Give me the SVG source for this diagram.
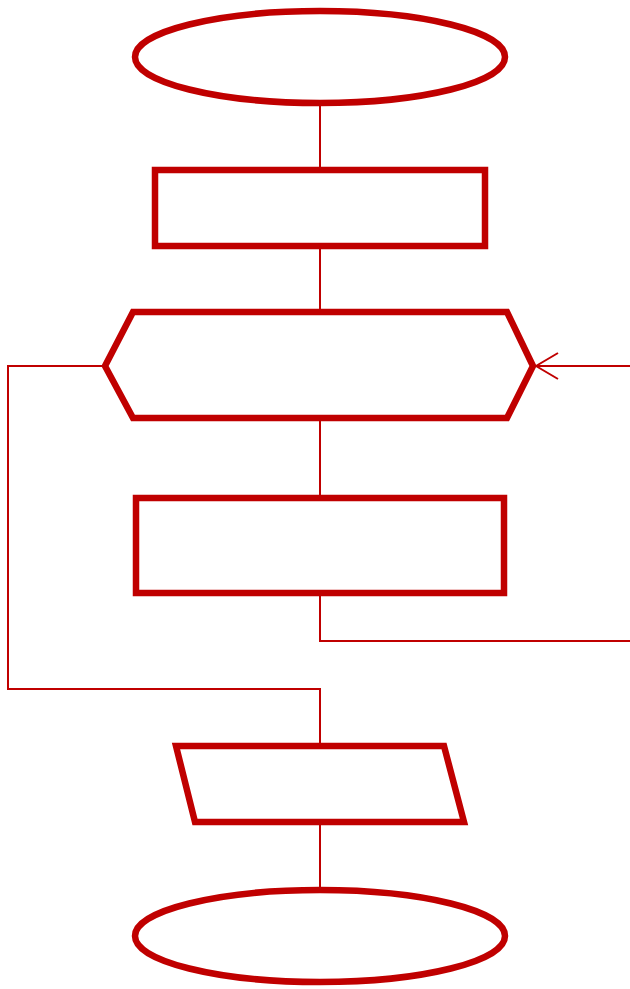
<svg xmlns="http://www.w3.org/2000/svg" width="630" height="989" viewBox="0 0 630 989">
<style>
.n{fill:#fff;stroke:#c00000;stroke-width:6.5;stroke-linejoin:miter}
.c{fill:none;stroke:#c00000;stroke-width:2}
</style>
<defs>
<marker id="ar" viewBox="0 0 24 28" refX="23" refY="14" markerWidth="24" markerHeight="28" markerUnits="userSpaceOnUse" orient="auto">
<path d="M1,1 L23,14 L1,27" fill="none" stroke="#c00000" stroke-width="2"/>
</marker>
</defs>
<g id="start"><ellipse class="n" cx="320" cy="57" rx="185" ry="46"/></g>
<g id="process1"><rect class="n" x="155" y="170" width="330" height="76"/></g>
<g id="loop"><polygon class="n" points="105,366 133,312 507,312 533,366 507,418 133,418"/></g>
<g id="process2"><rect class="n" x="136" y="498" width="368" height="95"/></g>
<g id="io"><polygon class="n" points="176,746 444,746 464,822 195,822"/></g>
<g id="end"><ellipse class="n" cx="320" cy="936" rx="185" ry="46"/></g>
<g id="connectors">
<line class="c" x1="320" y1="106" x2="320" y2="167"/>
<line class="c" x1="320" y1="249" x2="320" y2="309"/>
<line class="c" x1="320" y1="421" x2="320" y2="495"/>
<polyline class="c" points="320,596 320,641 630,641"/>
<line class="c" x1="630" y1="366" x2="536" y2="366" marker-end="url(#ar)"/>
<polyline class="c" points="102,366 8,366 8,689 320,689 320,743"/>
<line class="c" x1="320" y1="825" x2="320" y2="887"/>
</g>
</svg>
